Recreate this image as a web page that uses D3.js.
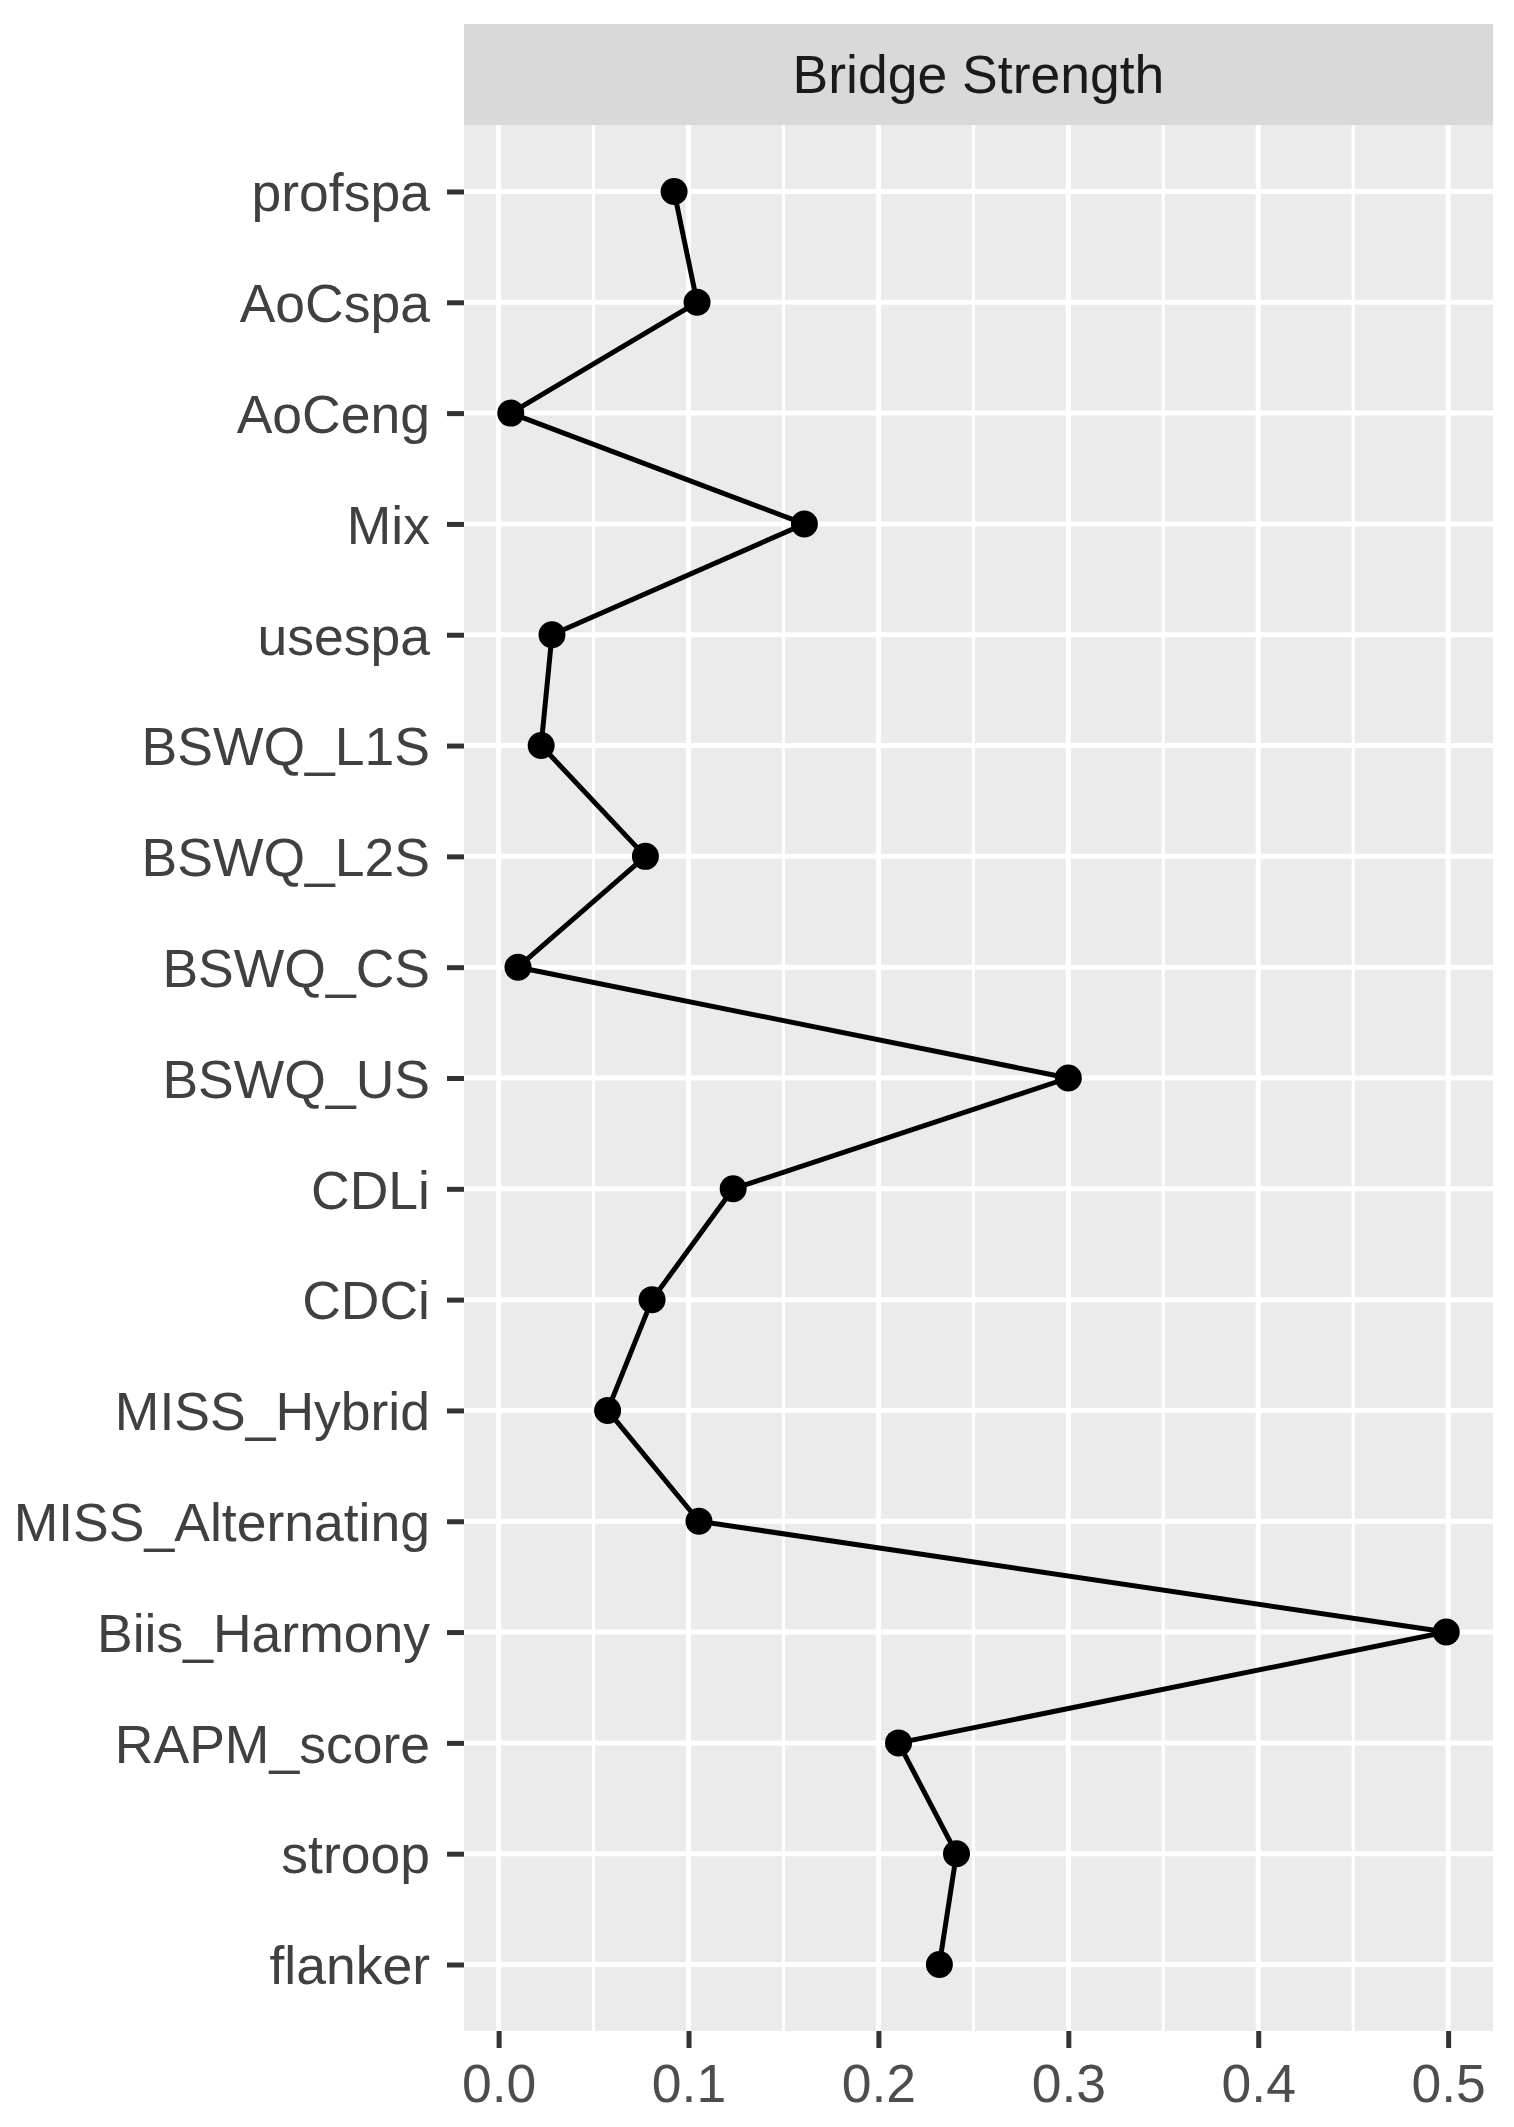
<!DOCTYPE html>
<html>
<head>
<meta charset="utf-8">
<script src="https://cdn.jsdelivr.net/npm/d3@7"></script>
<style>
  body { margin: 0; background: #fff; }
  svg { display: block; font-family: "Liberation Sans", Arial, sans-serif; }
</style>
</head>
<body>
<svg id="chart"></svg>
<script>
// node names, top to bottom
const nodes = ["profspa", "AoCspa", "AoCeng", "Mix", "usespa", "BSWQ_L1S", "BSWQ_L2S",
  "BSWQ_CS", "BSWQ_US", "CDLi", "CDCi", "MISS_Hybrid", "MISS_Alternating",
  "Biis_Harmony", "RAPM_score", "stroop", "flanker"];
// bridge strength values
const strength = [0.0924, 0.1045, 0.0064, 0.161, 0.0281, 0.0224, 0.0773,
  0.0102, 0.300, 0.1235, 0.0808, 0.0574, 0.1055,
  0.499, 0.2106, 0.2411, 0.2321];
const panelTitle = "Bridge Strength";
const xTicks = [0, 0.1, 0.2, 0.3, 0.4, 0.5];
const xMinorTicks = [0.05, 0.15, 0.25, 0.35, 0.45];

const data = nodes.map((n, i) => ({ node: n, value: strength[i] }));

const W = 1514, H = 2127;
const panel = { left: 464, right: 1493, top: 125, bottom: 2031 };
const stripTop = 24;
const fontSize = 53.5;

const svg = d3.select("#chart").attr("width", W).attr("height", H);

// ggplot-like 5% expansion on the continuous axis
const ext = d3.extent(strength);
const pad = (ext[1] - ext[0]) * 0.05;
const x = d3.scaleLinear()
  .domain([ext[0] - pad, ext[1] + pad])
  .range([panel.left, panel.right]);

const y = d3.scalePoint()
  .domain(nodes)
  .range([panel.top, panel.bottom])
  .padding(0.6);

// panel background
svg.append("rect")
  .attr("x", panel.left).attr("y", panel.top)
  .attr("width", panel.right - panel.left)
  .attr("height", panel.bottom - panel.top)
  .attr("fill", "#EBEBEB");

// grid
const grid = svg.append("g");
grid.selectAll("line.minor")
  .data(xMinorTicks)
  .join("line")
  .attr("class", "minor")
  .attr("x1", d => x(d)).attr("x2", d => x(d))
  .attr("y1", panel.top).attr("y2", panel.bottom)
  .attr("stroke", "#fff").attr("stroke-width", 3);
grid.selectAll("line.majx")
  .data(xTicks)
  .join("line")
  .attr("class", "majx")
  .attr("x1", d => x(d)).attr("x2", d => x(d))
  .attr("y1", panel.top).attr("y2", panel.bottom)
  .attr("stroke", "#fff").attr("stroke-width", 5);
grid.selectAll("line.majy")
  .data(nodes)
  .join("line")
  .attr("class", "majy")
  .attr("x1", panel.left).attr("x2", panel.right)
  .attr("y1", d => y(d)).attr("y2", d => y(d))
  .attr("stroke", "#fff").attr("stroke-width", 5);

// facet strip
svg.append("rect")
  .attr("x", panel.left).attr("y", stripTop)
  .attr("width", panel.right - panel.left)
  .attr("height", panel.top - stripTop)
  .attr("fill", "#D9D9D9");
svg.append("text")
  .attr("x", (panel.left + panel.right) / 2)
  .attr("y", 93)
  .attr("text-anchor", "middle")
  .attr("font-size", fontSize)
  .attr("fill", "#1A1A1A")
  .text(panelTitle);

// line + points
const line = d3.line()
  .x(d => x(d.value))
  .y(d => y(d.node));
svg.append("path")
  .datum(data)
  .attr("d", line)
  .attr("fill", "none")
  .attr("stroke", "#000")
  .attr("stroke-width", 5)
  .attr("stroke-linejoin", "round");
svg.selectAll("circle.pt")
  .data(data)
  .join("circle")
  .attr("class", "pt")
  .attr("cx", d => x(d.value))
  .attr("cy", d => y(d.node))
  .attr("r", 13.5)
  .attr("fill", "#000");

// axes
const yAxis = svg.append("g")
  .attr("transform", `translate(${panel.left},0)`)
  .call(d3.axisLeft(y).tickSize(17).tickPadding(17));
yAxis.select(".domain").remove();
yAxis.selectAll(".tick line").attr("stroke", "#333333").attr("stroke-width", 5);
yAxis.selectAll(".tick text")
  .attr("font-size", fontSize)
  .attr("font-family", "Liberation Sans, Arial, sans-serif")
  .attr("fill", "#404040")
  .attr("dy", "0.36em");

const xAxis = svg.append("g")
  .attr("transform", `translate(0,${panel.bottom})`)
  .call(d3.axisBottom(x).tickValues(xTicks).tickFormat(d3.format(".1f")).tickSize(17).tickPadding(16));
xAxis.select(".domain").remove();
xAxis.selectAll(".tick line").attr("stroke", "#333333").attr("stroke-width", 5);
xAxis.selectAll(".tick text")
  .attr("font-size", fontSize)
  .attr("font-family", "Liberation Sans, Arial, sans-serif")
  .attr("fill", "#4D4D4D");
</script>
</body>
</html>
